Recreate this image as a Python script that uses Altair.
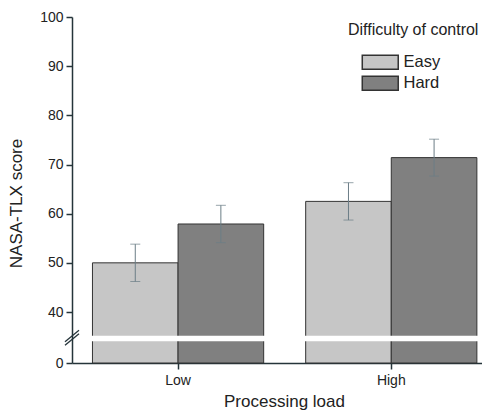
import altair as alt
import pandas as pd

loads = ["Low", "High"]
difficulty = ["Easy", "Hard"]
easy_means = [50.0, 62.5]
hard_means = [57.9, 71.4]
easy_err = [3.8, 3.8]
hard_err = [3.8, 3.75]
y_ticks = [0, 40, 50, 60, 70, 80, 90, 100]
fill_colors = ["#c6c6c6", "#808080"]
break_band = [17.0, 21.4]

rows = []
for i, l in enumerate(loads):
    rows.append(dict(load=l, diff="Easy", mean=easy_means[i],
                     lo=easy_means[i] - easy_err[i], hi=easy_means[i] + easy_err[i]))
    rows.append(dict(load=l, diff="Hard", mean=hard_means[i],
                     lo=hard_means[i] - hard_err[i], hi=hard_means[i] + hard_err[i]))
df = pd.DataFrame(rows)

W, H = 410, 346
FONT = "Liberation Sans"
AXIS_COLOR = "#25343a"
ERR_COLOR = "#6b7d86"

xscale = alt.Scale(domain=loads, paddingInner=0.197, paddingOuter=0.06, align=0.8)
yscale = alt.Scale(domain=[0, 40, 100], range=[H, 295, 0], nice=False, zero=False)
xoff = alt.XOffset("diff:N", scale=alt.Scale(domain=difficulty, paddingInner=0, paddingOuter=0))

x_enc = alt.X("load:N", scale=xscale, sort=loads,
              axis=alt.Axis(title="Processing load", labelAngle=0, tickSize=6,
                            labelPadding=4, labelFontSize=14, titleFontSize=17,
                            titleFontWeight="normal", titleBaseline="alphabetic",
                            titleX=212, titleY=43, domainColor=AXIS_COLOR,
                            tickColor=AXIS_COLOR, domainWidth=1.5, tickWidth=1.5,
                            labelColor="#222", titleColor="#222"))
y_axis = alt.Axis(title="NASA-TLX score", values=y_ticks, tickSize=6, labelPadding=3,
                  labelFontSize=14, titleFontSize=17, titleFontWeight="normal",
                  titleX=-47, titleY=186, grid=False, domainColor=AXIS_COLOR,
                  tickColor=AXIS_COLOR, domainWidth=1.5, tickWidth=1.5,
                  labelColor="#222", titleColor="#222")

base = alt.Chart(df)

bars = base.mark_bar(stroke="#333333", strokeWidth=1).encode(
    x=x_enc,
    xOffset=xoff,
    y=alt.Y("mean:Q", scale=yscale, axis=y_axis),
    y2=alt.datum(0),
    fill=alt.Fill("diff:N", scale=alt.Scale(domain=difficulty, range=fill_colors),
                  legend=alt.Legend(title="Difficulty of control", orient="none",
                                    legendX=276, legendY=5, titleFontSize=16,
                                    titleFontWeight="normal", labelFontSize=16.5,
                                    symbolType="M-2.5,-0.972H2.5V0.972H-2.5Z",
                                    symbolSize=207, symbolStrokeColor="#333333",
                                    symbolStrokeWidth=1.5, symbolOffset=24,
                                    titlePadding=16, rowPadding=0,
                                    labelOffset=15, padding=0,
                                    labelColor="#222", titleColor="#222")),
)

band = alt.Chart(pd.DataFrame({"lo": [break_band[0]], "hi": [break_band[1]]})).mark_rect(
    color="white").encode(
    x=alt.value(2), x2=alt.value(W),
    y=alt.Y("lo:Q", scale=yscale), y2="hi:Q",
)

err = base.mark_rule(color=ERR_COLOR, strokeWidth=1).encode(
    x=alt.X("load:N", scale=xscale, sort=loads), xOffset=xoff,
    y=alt.Y("lo:Q", scale=yscale), y2="hi:Q",
)
cap_lo = base.mark_tick(color=ERR_COLOR, thickness=1, size=10).encode(
    x=alt.X("load:N", scale=xscale, sort=loads), xOffset=xoff,
    y=alt.Y("lo:Q", scale=yscale),
)
cap_hi = base.mark_tick(color=ERR_COLOR, thickness=1, size=10).encode(
    x=alt.X("load:N", scale=xscale, sort=loads), xOffset=xoff,
    y=alt.Y("hi:Q", scale=yscale),
)

slash_df = pd.DataFrame({"y1": [14.0, 16.6], "y2": [23.0, 25.6]})
slashes = alt.Chart(slash_df).mark_rule(color=AXIS_COLOR, strokeWidth=1.3).encode(
    x=alt.value(-7), x2=alt.value(7),
    y=alt.Y("y1:Q", scale=yscale), y2="y2:Q",
)

chart = alt.layer(bars, band, err, cap_lo, cap_hi, slashes).properties(
    width=W, height=H,
    autosize=alt.AutoSizeParams(type="none"),
    padding={"left": 64, "top": 9, "right": 0, "bottom": 48},
).configure(font=FONT).configure_view(stroke=None)

chart.save("out.html", embed_options={"renderer": "svg", "actions": False})
